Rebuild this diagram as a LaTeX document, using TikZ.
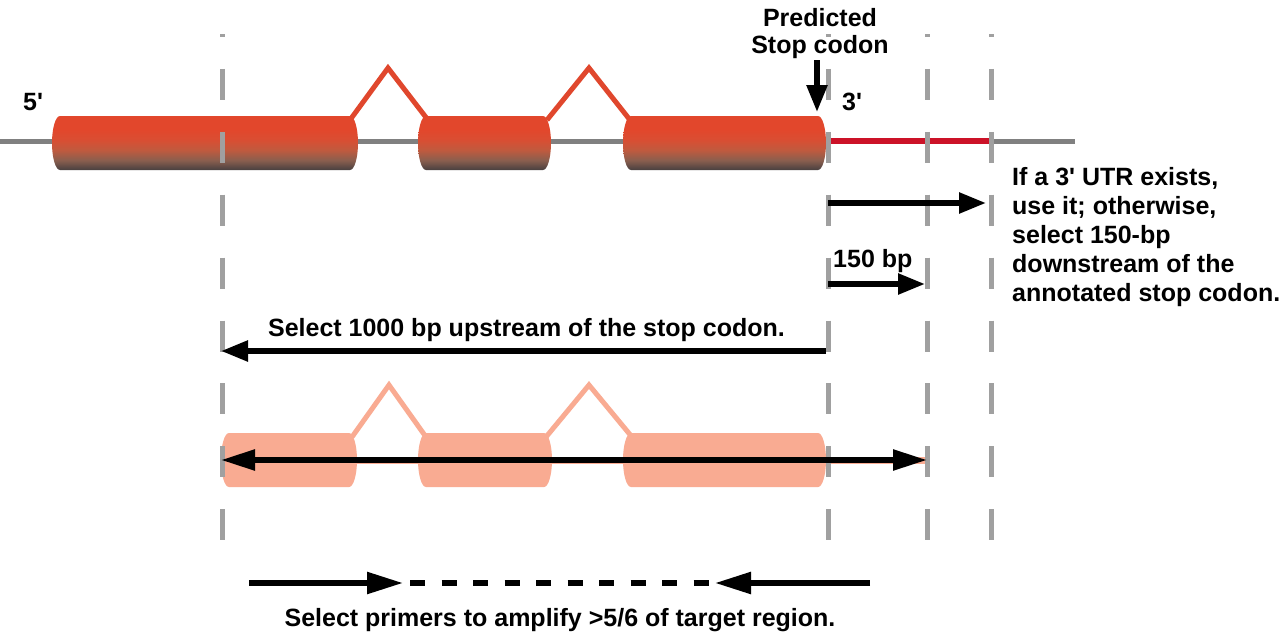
\documentclass[tikz,border=0pt]{standalone}
\usepackage{fontspec}
\setmainfont{Liberation Sans}
\usetikzlibrary{arrows.meta}
\definecolor{bbgray}{HTML}{808080}
\definecolor{guidegray}{HTML}{A0A0A0}
\definecolor{intronred}{HTML}{E0472D}
\definecolor{utrred}{HTML}{CC1228}
\definecolor{salmon}{HTML}{F9AB92}
\definecolor{exA}{HTML}{484040}
\definecolor{exB}{HTML}{8A5E4E}
\definecolor{exC}{HTML}{C05A3E}
\definecolor{exD}{HTML}{D94E33}
\definecolor{exE}{HTML}{E2472C}
\pgfdeclareverticalshading{exonshade}{100bp}{color(0bp)=(exA); color(25bp)=(exA); color(34bp)=(exB); color(43.5bp)=(exC); color(53bp)=(exD); color(62bp)=(exE); color(100bp)=(exE)}
\newcommand\apos{\textquotesingle}
% exon cylinder: x1, x2, top, bottom, options
\newcommand\exonshape[5]{\path[#5] (#1+8,#3) -- (#2-8,#3) .. controls (#2-3.6,#3) and (#2,#3+12.1) .. (#2,#3+27) .. controls (#2,#4-12.1) and (#2-3.6,#4) .. (#2-8,#4) -- (#1+8,#4) .. controls (#1+3.6,#4) and (#1,#4-12.1) .. (#1,#4-27) .. controls (#1,#3+12.1) and (#1+3.6,#3) .. (#1+8,#3) -- cycle;}
\begin{document}
\begin{tikzpicture}[x=1pt,y=-1pt,
  lbl/.style={font=\fontsize{25}{29}\selectfont\bfseries, inner sep=0pt, text=black},
  backbone/.style={draw=bbgray, line width=5pt},
  guide/.style={draw=guidegray, line width=5pt, dash pattern=on 31pt off 31.9pt, dash phase=28pt},
  intron/.style={draw=intronred, line width=5pt, line join=miter},
  salintron/.style={draw=salmon, line width=5pt, line join=miter},
  utr/.style={draw=utrred, line width=6pt},
  salline/.style={draw=salmon, line width=7pt},
  arr/.style={draw=black, line width=5.5pt, -{Triangle[length=27pt,width=20pt]}},
  longarr/.style={draw=black, line width=5.5pt, -{Triangle[length=36pt,width=21pt]}},
  dblarr/.style={draw=black, line width=5.5pt, {Triangle[length=34pt,width=20pt]}-{Triangle[length=34pt,width=20pt]}},
  primerdash/.style={draw=black, line width=6pt, dash pattern=on 15pt off 16.5pt}
]
\fill[white] (0,0) rectangle (1280,637);
\useasboundingbox (0,0) rectangle (1280,637);

% coordinates
\coordinate (bbL) at (0,141);
\coordinate (bbR) at (1075,141);
\coordinate (utrA) at (828,141);
\coordinate (utrB) at (991,141);
\coordinate (stopT) at (817,60);
\coordinate (stopB) at (817,112);
\coordinate (u3A) at (828,203);
\coordinate (u3B) at (986,203);
\coordinate (bpA) at (828,284);
\coordinate (bpB) at (925,284);
\coordinate (upA) at (826,351);
\coordinate (upB) at (221,351);
\coordinate (tgA) at (221,460);
\coordinate (tgB) at (927,460);
\coordinate (slA) at (222,460);
\coordinate (slB) at (928,460);
\coordinate (fpA) at (249,583);
\coordinate (fpB) at (403,583);
\coordinate (rpA) at (870,583);
\coordinate (rpB) at (715,583);
\coordinate (dsA) at (410,583);
\coordinate (dsB) at (712,583);

% top gene model
\draw[backbone] (bbL) -- (bbR);
\draw[intron] (350,120) -- (388,68) -- (428,120);
\draw[intron] (547,120) -- (589,68) -- (630,120);
\exonshape{52}{358}{116}{170}{shade, shading=exonshade}
\exonshape{418}{551}{116}{170}{shade, shading=exonshade}
\exonshape{623}{826}{116}{170}{shade, shading=exonshade}
\draw[utr] (utrA) -- (utrB);

% lower target region
\draw[salline] (slA) -- (slB);
\draw[salintron] (352,437) -- (389,385) -- (426,437);
\draw[salintron] (546,437) -- (589,385) -- (632,437);
\exonshape{221}{357}{433}{487}{fill=salmon}
\exonshape{418}{552}{433}{487}{fill=salmon}
\exonshape{623}{826}{433}{487}{fill=salmon}

% guide lines
\foreach \gx in {222,828,927,991} \draw[guide] (\gx,34) -- (\gx,541);

% arrows
\draw[arr] (stopT) -- (stopB);
\draw[arr] (u3A) -- (u3B);
\draw[arr] (bpA) -- (bpB);
\draw[arr] (upA) -- (upB);
\draw[dblarr] (tgA) -- (tgB);
\draw[longarr] (fpA) -- (fpB);
\draw[longarr] (rpA) -- (rpB);
\draw[primerdash] (dsA) -- (dsB);

% labels
\node[lbl, anchor=base west] (five) at (23,110) {5\apos};
\node[lbl, anchor=base west] (three) at (842,110) {3\apos};
\node[lbl, font=\fontsize{25}{27}\selectfont\bfseries, anchor=north, align=center] (pred) at (820,7.8) {Predicted\\Stop codon};
\node[lbl, anchor=north west, align=left] (utrtext) at (1012,166.8) {If a 3\apos{} UTR exists,\\use it; otherwise,\\select 150-bp\\downstream of the\\annotated stop codon.};
\node[lbl, anchor=base west] (bp150) at (833,267) {150 bp};
\node[lbl, anchor=base] (up1000) at (526.5,336) {Select 1000 bp upstream of the stop codon.};
\node[lbl, anchor=base] (primers) at (560,626) {Select primers to amplify >5/6 of target region.};
\end{tikzpicture}
\end{document}
